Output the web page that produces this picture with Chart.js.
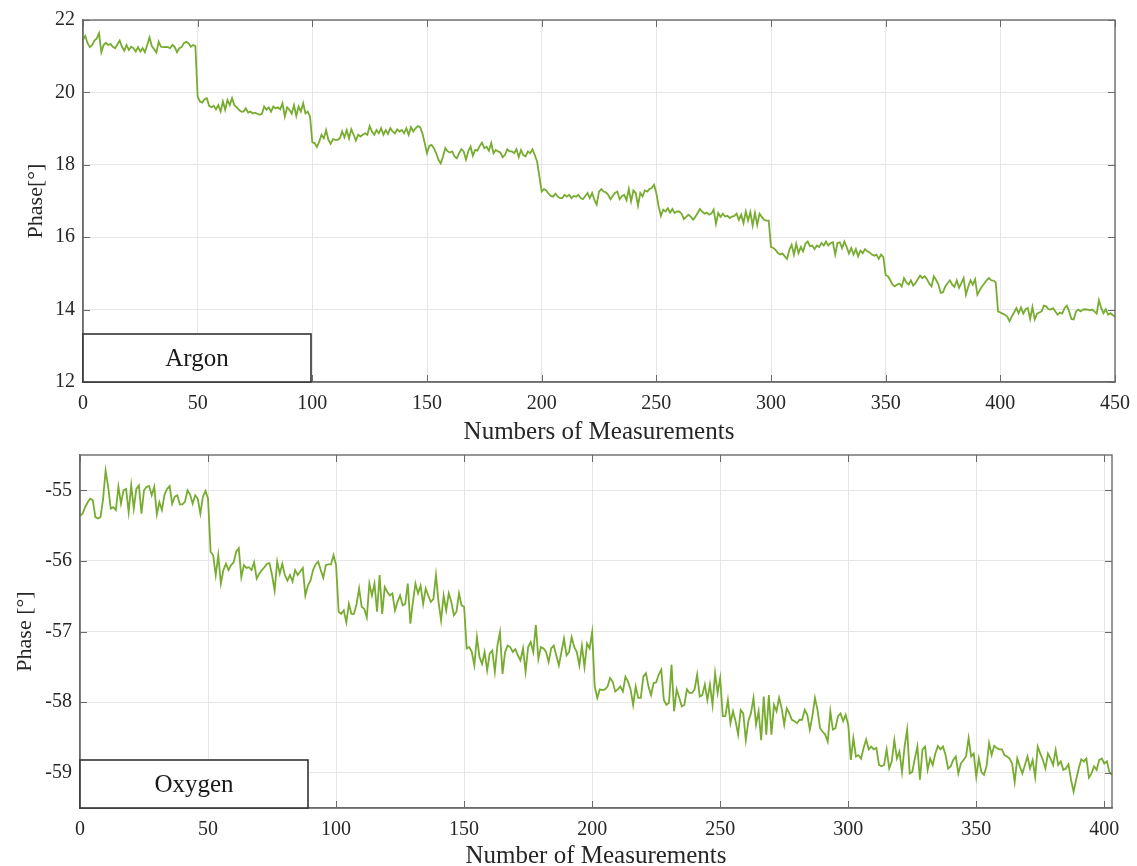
<!DOCTYPE html>
<html>
<head>
<meta charset="utf-8">
<title>Phase vs. number of measurements</title>
<script src="https://cdn.jsdelivr.net/npm/chart.js@4.4.1/dist/chart.umd.min.js"></script>
<style>
  html, body { margin: 0; padding: 0; background: #fff; }
  .panel { position: absolute; left: 0; width: 1137px; }
  #argon-panel { top: 0; height: 440px; }
  #oxygen-panel { top: 440px; height: 426px; }
</style>
</head>
<body>
<div class="panel" id="argon-panel"><canvas id="argon"></canvas></div>
<div class="panel" id="oxygen-panel"><canvas id="oxygen"></canvas></div>
<script>
// phase in degrees, one value per measurement (index = measurement number)
const argonPhase = [
  21.45, 21.56, 21.36, 21.25, 21.31, 21.43, 21.49, 21.63, 21.11, 21.31,
  21.37, 21.31, 21.34, 21.26, 21.22, 21.33, 21.43, 21.26, 21.15, 21.31,
  21.17, 21.26, 21.22, 21.13, 21.25, 21.13, 21.22, 21.11, 21.31, 21.52,
  21.28, 21.19, 21.10, 21.40, 21.26, 21.25, 21.26, 21.25, 21.22, 21.31,
  21.25, 21.11, 21.22, 21.25, 21.36, 21.40, 21.36, 21.26, 21.31, 21.28,
  19.88, 19.75, 19.72, 19.81, 19.84, 19.63, 19.59, 19.63, 19.53, 19.65,
  19.47, 19.75, 19.52, 19.79, 19.65, 19.84, 19.65, 19.59, 19.52, 19.47,
  19.47, 19.56, 19.44, 19.47, 19.42, 19.44, 19.41, 19.38, 19.41, 19.61,
  19.52, 19.59, 19.47, 19.61, 19.56, 19.59, 19.53, 19.70, 19.33, 19.59,
  19.52, 19.41, 19.65, 19.35, 19.61, 19.47, 19.70, 19.42, 19.47, 19.33,
  18.62, 18.60, 18.49, 18.64, 18.83, 18.73, 18.96, 18.69, 18.58, 18.71,
  18.69, 18.69, 18.73, 18.92, 18.76, 18.96, 18.73, 18.98, 18.83, 18.67,
  18.83, 18.78, 18.83, 18.87, 18.83, 19.07, 18.92, 18.83, 18.96, 18.87,
  19.01, 18.83, 18.96, 18.85, 19.01, 18.92, 18.87, 18.98, 18.92, 18.96,
  18.87, 19.01, 18.83, 19.04, 18.92, 19.01, 19.07, 19.04, 18.87, 18.60,
  18.32, 18.52, 18.55, 18.46, 18.32, 18.14, 18.04, 18.23, 18.46, 18.37,
  18.34, 18.37, 18.23, 18.18, 18.32, 18.43, 18.37, 18.14, 18.37, 18.50,
  18.25, 18.41, 18.39, 18.52, 18.61, 18.46, 18.50, 18.39, 18.60, 18.32,
  18.41, 18.37, 18.34, 18.21, 18.27, 18.43, 18.37, 18.37, 18.32, 18.43,
  18.21, 18.41, 18.27, 18.23, 18.37, 18.32, 18.43, 18.27, 18.09, 17.68,
  17.26, 17.33, 17.29, 17.20, 17.14, 17.12, 17.20, 17.12, 17.08, 17.08,
  17.17, 17.12, 17.17, 17.08, 17.14, 17.12, 17.17, 17.08, 17.05, 17.14,
  17.22, 17.08, 17.22, 17.03, 16.90, 17.26, 17.33, 17.26, 17.24, 17.17,
  17.05, 17.14, 17.22, 17.26, 17.05, 17.13, 17.17, 17.02, 17.33, 16.99,
  17.29, 17.22, 16.87, 17.22, 17.13, 17.29, 17.26, 17.33, 17.36, 17.45,
  17.22, 16.85, 16.59, 16.76, 16.71, 16.80, 16.68, 16.78, 16.67, 16.71,
  16.71, 16.65, 16.50, 16.56, 16.62, 16.57, 16.48, 16.56, 16.67, 16.78,
  16.71, 16.65, 16.68, 16.62, 16.65, 16.76, 16.37, 16.67, 16.56, 16.65,
  16.57, 16.59, 16.53, 16.57, 16.59, 16.65, 16.48, 16.62, 16.39, 16.71,
  16.46, 16.69, 16.32, 16.67, 16.34, 16.65, 16.56, 16.48, 16.46, 16.46,
  15.73, 15.70, 15.65, 15.56, 15.52, 15.55, 15.47, 15.40, 15.65, 15.79,
  15.52, 15.82, 15.56, 15.73, 15.61, 15.82, 15.88, 15.75, 15.77, 15.67,
  15.77, 15.73, 15.84, 15.77, 15.88, 15.77, 15.84, 15.86, 15.52, 15.84,
  15.86, 15.70, 15.88, 15.73, 15.55, 15.70, 15.52, 15.67, 15.47, 15.63,
  15.56, 15.67, 15.61, 15.58, 15.52, 15.49, 15.52, 15.40, 15.52, 15.45,
  14.95, 14.92, 14.81, 14.69, 14.64, 14.69, 14.72, 14.64, 14.87, 14.75,
  14.69, 14.81, 14.66, 14.73, 14.84, 14.94, 14.87, 14.92, 14.84, 14.72,
  14.64, 14.92, 14.82, 14.69, 14.46, 14.48, 14.64, 14.73, 14.81, 14.69,
  14.63, 14.81, 14.60, 14.73, 14.87, 14.41, 14.63, 14.81, 14.69, 14.84,
  14.41, 14.53, 14.64, 14.72, 14.81, 14.87, 14.81, 14.80, 14.75, 13.95,
  13.92, 13.89, 13.86, 13.81, 13.68, 13.81, 13.92, 14.04, 13.90, 14.06,
  13.89, 14.01, 14.04, 13.74, 14.07, 13.73, 13.89, 13.92, 13.95, 14.11,
  14.09, 14.01, 14.00, 14.04, 13.95, 13.86, 13.92, 13.89, 14.04, 14.11,
  13.95, 13.74, 13.73, 13.95, 14.00, 13.95, 14.00, 14.01, 14.00, 13.98,
  14.00, 13.95, 13.89, 14.26, 14.04, 13.90, 14.01, 13.86, 13.90, 13.85,
  13.80
];

const oxygenPhase = [
  -55.36, -55.33, -55.24, -55.17, -55.12, -55.14, -55.38, -55.40, -55.38, -55.13,
  -54.72, -54.95, -55.26, -55.24, -55.28, -54.95, -55.19, -55.00, -54.98, -55.31,
  -54.93, -55.26, -54.98, -54.93, -55.33, -55.00, -54.95, -54.94, -55.07, -54.95,
  -55.34, -55.17, -55.28, -55.06, -54.98, -54.94, -55.19, -55.09, -55.07, -55.20,
  -55.20, -55.16, -55.00, -55.06, -55.19, -55.07, -55.12, -55.33, -55.09, -55.01,
  -55.12, -55.87, -55.92, -56.20, -55.92, -56.32, -56.13, -56.04, -56.13, -56.06,
  -56.02, -55.87, -55.82, -56.23, -56.06, -56.10, -56.09, -56.13, -56.02, -56.25,
  -56.18, -56.13, -56.09, -56.04, -56.03, -56.20, -56.42, -56.01, -56.18, -56.04,
  -56.20, -56.28, -56.20, -56.29, -56.13, -56.20, -56.15, -56.10, -56.49, -56.35,
  -56.28, -56.13, -56.05, -56.01, -56.13, -56.24, -56.06, -56.05, -56.05, -55.92,
  -56.06, -56.72, -56.75, -56.70, -56.87, -56.61, -56.75, -56.75, -56.61, -56.39,
  -56.65, -56.68, -56.80, -56.32, -56.49, -56.32, -56.72, -56.20, -56.75, -56.37,
  -56.44, -56.49, -56.46, -56.70, -56.58, -56.49, -56.63, -56.61, -56.32, -56.89,
  -56.58, -56.32, -56.46, -56.35, -56.61, -56.39, -56.49, -56.58, -56.54, -56.20,
  -56.58, -56.84, -56.49, -56.70, -56.46, -56.58, -56.77, -56.72, -56.46, -56.63,
  -56.65, -57.24, -57.22, -57.29, -57.48, -57.08, -57.36, -57.46, -57.29, -57.55,
  -57.31, -57.27, -57.57, -57.20, -57.01, -57.60, -57.29, -57.20, -57.22, -57.29,
  -57.25, -57.34, -57.41, -57.24, -57.57, -57.22, -57.15, -57.29, -56.91, -57.39,
  -57.22, -57.24, -57.29, -57.43, -57.24, -57.20, -57.34, -57.48, -57.29, -57.10,
  -57.34, -57.29, -57.08, -57.22, -57.29, -57.48, -57.20, -57.50, -57.17, -57.24,
  -57.01, -57.78, -57.94, -57.82, -57.83, -57.82, -57.78, -57.66, -57.71, -57.85,
  -57.82, -57.78, -57.85, -57.64, -57.71, -57.82, -58.04, -57.78, -57.94, -57.94,
  -57.64, -57.59, -57.78, -57.90, -57.73, -57.72, -57.61, -57.54, -57.97, -58.04,
  -58.01, -57.47, -58.13, -57.82, -57.94, -58.06, -58.04, -57.82, -57.87, -57.87,
  -57.82, -57.61, -57.92, -57.90, -57.75, -57.97, -57.75, -58.04, -57.59, -57.87,
  -57.66, -58.20, -58.20, -57.97, -58.30, -58.13, -58.27, -58.46, -58.11, -58.16,
  -58.54, -58.27, -58.16, -57.94, -58.32, -58.13, -58.54, -57.92, -58.46, -57.90,
  -58.46, -58.04, -58.13, -57.94, -58.09, -58.32, -58.09, -58.16, -58.25, -58.27,
  -58.30, -58.25, -58.25, -58.11, -58.18, -58.39, -58.20, -57.94, -58.11, -58.37,
  -58.42, -58.46, -58.56, -58.13, -58.39, -58.37, -58.20, -58.16, -58.27, -58.18,
  -58.32, -58.82, -58.51, -58.77, -58.75, -58.80, -58.65, -58.53, -58.67, -58.63,
  -58.67, -58.65, -58.89, -58.91, -58.89, -58.67, -58.94, -58.84, -58.54, -58.80,
  -58.70, -58.99, -58.63, -58.39, -59.01, -58.99, -58.80, -58.63, -59.10, -58.67,
  -58.63, -58.96, -58.80, -58.89, -58.73, -58.62, -58.67, -58.63, -58.75, -58.94,
  -58.91, -58.82, -58.77, -59.01, -58.87, -58.82, -58.77, -58.51, -58.77, -58.73,
  -59.06, -58.80, -58.99, -59.03, -58.91, -58.58, -58.75, -58.62, -58.65, -58.67,
  -58.67, -58.75, -58.77, -58.80, -58.87, -59.13, -58.80, -58.91, -59.01, -58.89,
  -58.77, -58.94, -58.82, -59.06, -58.63, -58.73, -58.82, -58.94, -58.73, -58.80,
  -58.89, -58.68, -58.89, -58.84, -58.96, -58.94, -58.88, -59.10, -59.27, -59.10,
  -58.94, -58.81, -58.84, -58.80, -59.07, -59.01, -58.91, -58.96, -58.82, -58.80,
  -58.87, -58.84, -58.99, -59.03
];

const argonXTicks = [0, 50, 100, 150, 200, 250, 300, 350, 400, 450];
const argonYTicks = [12, 14, 16, 18, 20, 22];
const oxygenXTicks = [0, 50, 100, 150, 200, 250, 300, 350, 400];
const oxygenYTicks = [-59, -58, -57, -56, -55];

const LINE_GREEN = '#77ac30';
const SERIF = '"Liberation Serif", "Times New Roman", serif';

Chart.defaults.font.family = SERIF;
Chart.defaults.color = '#262626';

// MATLAB-like axes: closed box, inward tick marks, legend box in the lower-left corner
const axesBox = {
  id: 'axesBox',
  afterDatasetsDraw(chart) {
    const { ctx, chartArea: a, scales: { x, y } } = chart;
    ctx.save();
    ctx.lineWidth = 1;
    ctx.strokeStyle = '#6b6b6b';
    ctx.beginPath();
    for (const t of x.ticks) {
      const px = Math.round(x.getPixelForValue(t.value)) + 0.5;
      ctx.moveTo(px, a.top); ctx.lineTo(px, a.top + 7);
      ctx.moveTo(px, a.bottom); ctx.lineTo(px, a.bottom - 7);
    }
    for (const t of y.ticks) {
      const py = Math.round(y.getPixelForValue(t.value)) + 0.5;
      ctx.moveTo(a.left, py); ctx.lineTo(a.left + 7, py);
      ctx.moveTo(a.right, py); ctx.lineTo(a.right - 7, py);
    }
    ctx.stroke();
    ctx.lineWidth = 1.4;
    ctx.strokeRect(a.left, a.top, a.right - a.left, a.bottom - a.top);

    const w = 228, h = 48;
    ctx.fillStyle = '#fff';
    ctx.fillRect(a.left, a.bottom - h, w, h);
    ctx.strokeStyle = '#333';
    ctx.lineWidth = 1.6;
    ctx.strokeRect(a.left, a.bottom - h, w, h);
    ctx.fillStyle = '#1a1a1a';
    ctx.font = '25px ' + SERIF;
    ctx.textAlign = 'center';
    ctx.textBaseline = 'middle';
    ctx.fillText(chart.data.datasets[0].label, a.left + w / 2, a.bottom - h / 2 + 1);
    ctx.restore();
  }
};

// fixed axis sizes so both plot boxes sit where they should
function pinAxis(size, key) {
  return sc => {
    sc[key] = size;
    sc.paddingLeft = sc.paddingRight = sc.paddingTop = sc.paddingBottom = 0;
  };
}

function phaseChart(canvasId, name, values, xTicks, yTicks, s) {
  return new Chart(document.getElementById(canvasId), {
    type: 'line',
    data: {
      datasets: [{
        label: name,
        data: values.map((v, i) => ({ x: i, y: v })),
        borderColor: LINE_GREEN,
        borderWidth: 1.8,
        pointRadius: 0,
        tension: 0
      }]
    },
    options: {
      responsive: true,
      maintainAspectRatio: false,
      animation: false,
      layout: { padding: { top: s.top, right: s.right, left: 0, bottom: 0 } },
      plugins: {
        legend: { display: false },
        tooltip: { enabled: false }
      },
      scales: {
        x: {
          type: 'linear',
          min: 0,
          max: s.xMax,
          afterBuildTicks: sc => { sc.ticks = xTicks.map(v => ({ value: v })); },
          afterFit: pinAxis(s.xHeight, 'height'),
          grid: { color: '#e6e6e6', drawTicks: false },
          border: { color: '#6b6b6b', width: 1.4 },
          ticks: { padding: 10, font: { size: 20 }, maxRotation: 0 },
          title: {
            display: true,
            text: s.xTitle,
            font: { size: 25, lineHeight: 1 },
            padding: { top: 0, bottom: s.xTitlePad }
          }
        },
        y: {
          min: s.yMin,
          max: s.yMax,
          afterBuildTicks: sc => { sc.ticks = yTicks.map(v => ({ value: v })); },
          afterFit: pinAxis(s.yWidth, 'width'),
          grid: { color: '#e6e6e6', drawTicks: false },
          border: { color: '#6b6b6b', width: 1.4 },
          ticks: { padding: 8, font: { size: 20 } },
          title: {
            display: true,
            text: s.yTitle,
            font: { size: 22, lineHeight: 1 },
            padding: { top: s.yTitlePad, bottom: 0 }
          }
        }
      }
    },
    plugins: [axesBox]
  });
}

phaseChart('argon', 'Argon', argonPhase, argonXTicks, argonYTicks, {
  top: 20, right: 22, xMax: 450, yMin: 12, yMax: 22,
  xHeight: 58, yWidth: 83,
  xTitle: 'Numbers of Measurements', xTitlePad: -5,
  yTitle: 'Phase[°]', yTitlePad: 25
});

phaseChart('oxygen', 'Oxygen', oxygenPhase, oxygenXTicks, oxygenYTicks, {
  top: 15, right: 25, xMax: 403, yMin: -59.5, yMax: -54.5,
  xHeight: 58, yWidth: 80,
  xTitle: 'Number of Measurements', xTitlePad: -3,
  yTitle: 'Phase [°]', yTitlePad: 14
});
</script>
</body>
</html>
